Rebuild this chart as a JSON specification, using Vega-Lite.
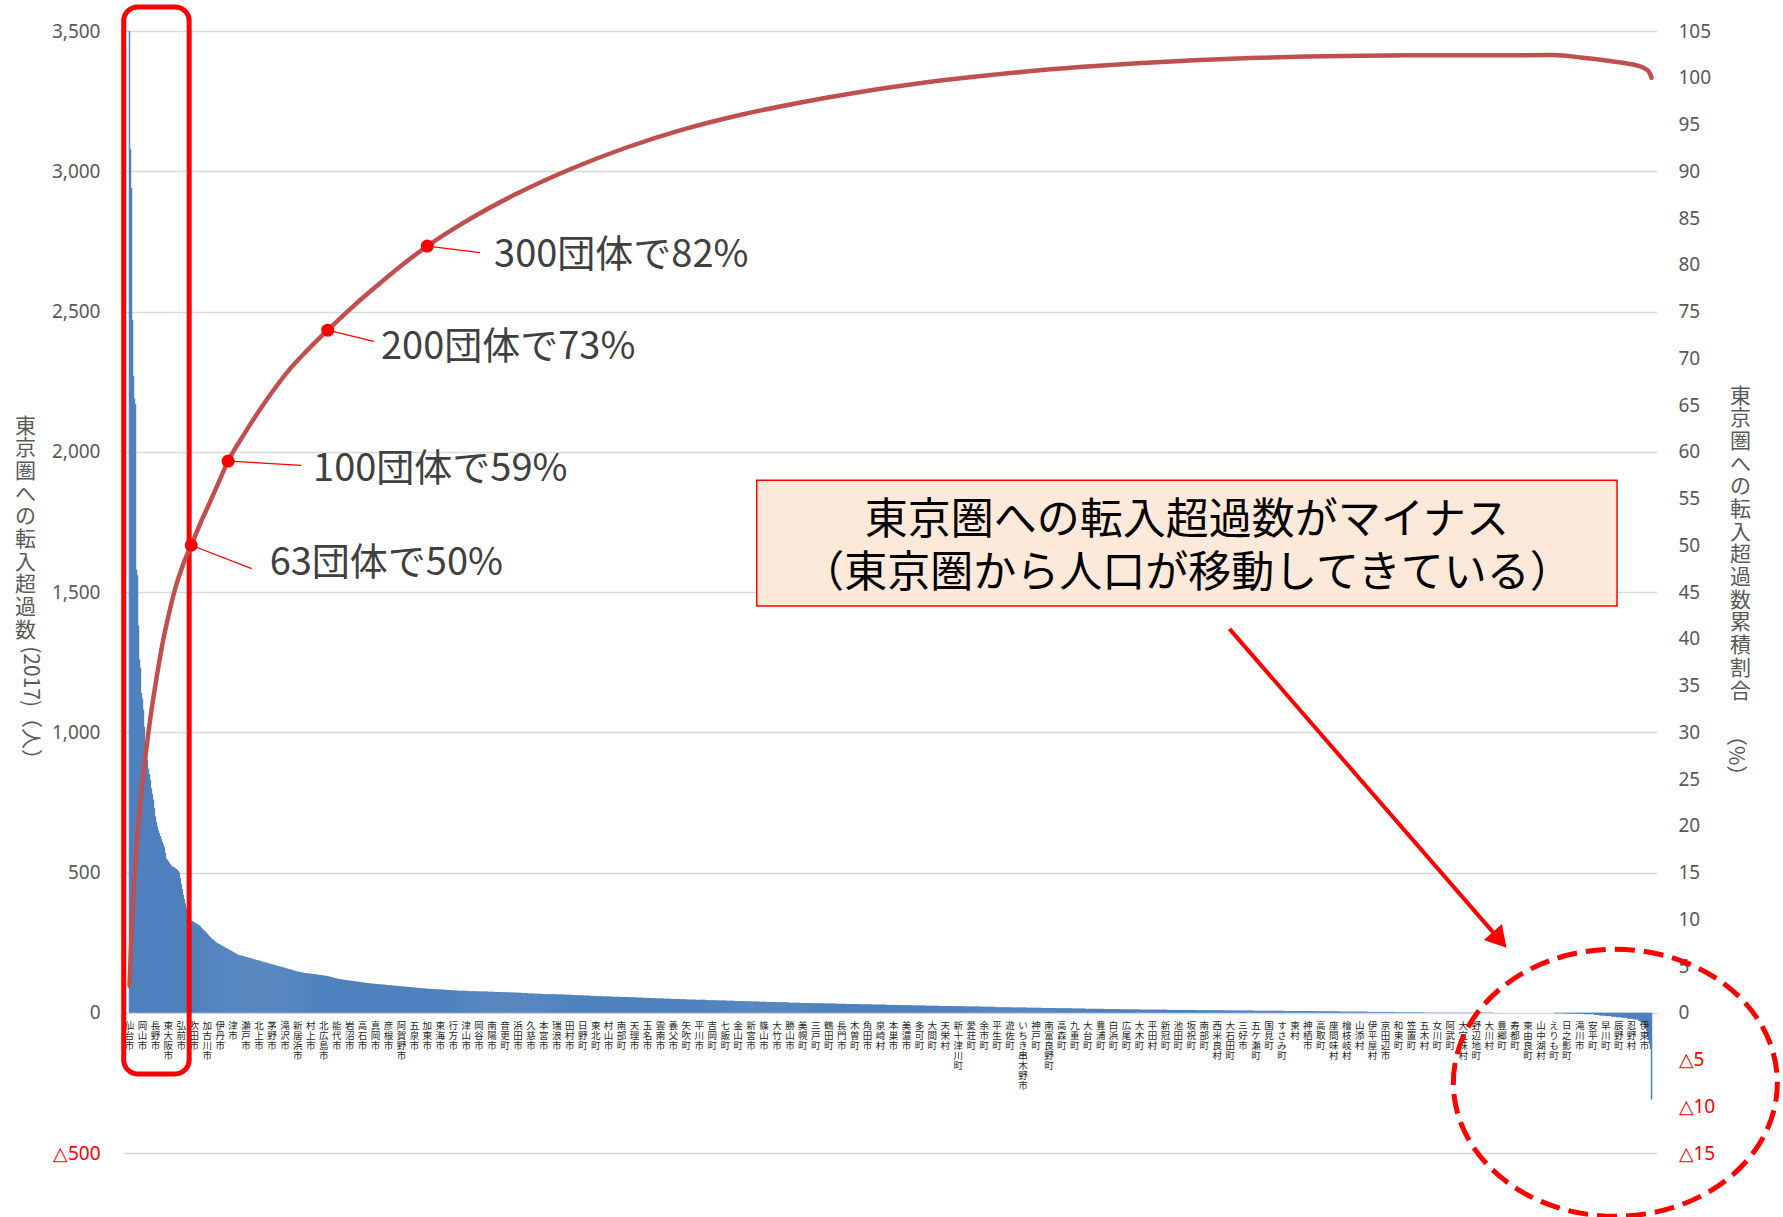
{
  "$schema": "https://vega.github.io/schema/vega-lite/v6.json",
  "width": 1533,
  "height": 1122,
  "autosize": {"type": "none"},
  "padding": {"left": 124, "top": 31, "right": 126, "bottom": 64},
  "background": "white",
  "config": {"view": {"stroke": null}, "font": "Noto Sans CJK JP"},
  "datasets": {
    "bars": [
      3500,3080,2940,2470,2270,2190,2170,1580,1560,1380,
      1260,1230,1140,1120,1080,1020,960,920,900,870,
      850,830,800,780,760,730,700,680,665,650,
      640,630,620,610,600,590,570,550,545,540,
      535,530,525,522,520,518,515,512,510,505,
      500,480,460,440,420,405,390,375,362,350,
      340,332,328,327,325,322,320,318,316,314,
      311,308,304,300,296,293,290,286,282,278,
      274,270,266,263,260,257,254,251,249,247,
      245,243,241,239,237,235,233,231,229,227,
      225,223,221,219,217,215,213,211,209,207,
      206,205,204,203,202,201,200,199,198,197,
      196,195,194,193,192,191,190,189,188,187,
      186,185,184,183,182,181,180,179,178,177,
      176,175,174,173,172,171,170,169,168,167,
      166,165,164,163,162,161,160,159,158,157,
      156,155,154,153,152,151,150,149,148,147,
      146,145,144,144,143,143,142,142,141,141,
      140,140,139,139,138,138,137,137,136,136,
      135,135,134,134,133,133,132,132,131,131,
      130,129,128,127,126,125,124,123,122,121,
      120,120,119,119,118,118,117,117,116,116,
      115,115,114,114,113,113,112,112,111,111,
      110,110,109,109,108,108,107,107,106,106,
      105,105,105,104,104,104,103,103,103,102,
      102,102,101,101,101,100,100,100,99,99,
      99,98,98,98,97,97,97,96,96,96,
      95,95,95,94,94,94,93,93,93,92,
      92,92,91,91,91,90,90,90,89,89,
      89,88,88,88,87,87,87,86,86,86,
      85,85,85,85,85,84,84,84,84,84,
      83,83,83,83,83,82,82,82,82,81,
      81,81,81,80,80,80,80,79,79,79,
      78,78,78,78,78,78,78,78,78,78,
      77,77,77,77,77,77,77,77,77,77,
      76,76,76,76,76,76,76,76,76,76,
      75,75,75,75,75,75,75,74,74,74,74,74,74,74,
      73,73,73,73,73,73,73,72,72,72,72,72,72,72,
      71,71,71,71,71,71,70,70,70,70,70,70,
      69,69,69,69,69,69,69,68,68,68,68,68,68,68,
      67,67,67,67,67,67,
      66,66,66,66,66,66,66,66,
      65,65,65,65,65,65,65,65,65,
      64,64,64,64,64,64,64,64,
      63,63,63,63,63,63,62,62,62,62,62,62,
      61,61,61,61,61,61,60,60,60,60,60,60,
      59,59,59,59,59,59,
      58,58,58,58,58,58,58,58,58,
      57,57,57,57,57,57,57,57,57,
      56,56,56,56,56,56,56,56,56,
      55,55,55,55,55,55,55,54,54,54,54,54,54,54,
      53,53,53,53,53,53,53,52,52,52,52,52,52,52,
      51,51,51,51,51,51,51,50,50,50,50,50,50,50,
      49,49,49,49,49,49,49,49,48,48,48,48,48,48,48,
      47,47,47,47,47,47,47,47,47,47,
      46,46,46,46,46,46,46,46,46,46,
      45,45,45,45,45,45,45,45,45,45,45,
      44,44,44,44,44,44,44,44,44,44,
      43,43,43,43,43,43,43,43,42,42,42,42,42,42,42,42,
      41,41,41,41,41,41,41,41,40,40,40,40,40,40,40,40,
      39,39,39,39,39,39,39,39,
      38,38,38,38,38,38,38,38,38,38,38,
      37,37,37,37,37,37,37,37,37,37,37,
      36,36,36,36,36,36,36,36,36,36,36,
      35,35,35,35,35,35,35,35,35,35,35,35,
      34,34,34,34,34,34,34,34,34,34,34,34,
      33,33,33,33,33,33,33,33,33,33,33,33,
      32,32,32,32,32,32,32,32,32,32,32,
      31,31,31,31,31,31,31,31,31,31,31,31,31,
      30,30,30,30,30,30,30,30,30,30,30,30,30,
      29,29,29,29,29,29,29,29,29,29,29,29,29,29,
      28,28,28,28,28,28,28,28,28,28,28,28,28,28,
      27,27,27,27,27,27,27,27,27,27,27,27,27,
      26,26,26,26,26,26,26,26,26,26,26,26,26,
      25,25,25,25,25,25,25,25,25,25,25,25,25,
      24,24,24,24,24,24,24,24,24,24,24,24,24,24,
      23,23,23,23,23,23,23,23,23,23,23,23,23,
      22,22,22,22,22,22,22,22,22,22,22,22,22,22,22,
      21,21,21,21,21,21,21,21,21,21,21,21,21,21,21,
      20,20,20,20,20,20,20,20,20,20,20,20,20,20,20,20,
      19,19,19,19,19,19,19,19,19,19,19,19,19,19,19,
      18,18,18,18,18,18,18,18,18,18,18,18,18,18,18,
      17,17,17,17,17,17,17,17,17,17,17,17,17,17,17,
      16,16,16,16,16,16,16,16,16,16,16,16,16,16,16,
      15,15,15,15,15,15,15,15,15,15,15,15,15,15,
      14,14,14,14,14,14,14,14,14,14,14,14,14,14,14,14,14,14,
      13,13,13,13,13,13,13,13,13,13,13,13,13,13,13,13,13,13,
      12,12,12,12,12,12,12,12,12,12,12,12,12,12,12,12,12,12,12,
      11,11,11,11,11,11,11,11,11,11,11,11,11,11,11,11,11,11,11,11,11,11,11,11,11,11,11,
      10,10,10,10,10,10,10,10,10,10,10,10,10,10,10,10,10,10,10,10,10,10,10,10,10,10,10,10,
      9,9,9,9,9,9,9,9,9,9,9,9,9,9,9,9,9,9,9,9,9,9,9,9,9,9,9,9,9,9,
      8,8,8,8,8,8,8,8,8,8,8,8,8,8,8,8,8,8,8,8,8,8,8,8,8,8,8,8,8,
      7,7,7,7,7,7,7,7,7,7,7,7,7,7,7,7,7,7,7,7,7,7,7,7,7,7,7,7,7,7,
      6,6,6,6,6,6,6,6,6,6,6,6,6,6,6,6,6,6,6,6,6,6,6,6,6,6,6,6,6,6,6,
      5,5,5,5,5,5,5,5,5,5,5,5,5,5,5,5,5,5,5,5,5,5,5,5,5,5,
      4,4,4,4,4,4,4,4,4,4,4,4,4,4,4,4,4,4,4,4,4,4,4,4,4,4,4,
      3,3,3,3,3,3,3,3,3,3,3,3,3,3,3,3,3,3,3,3,3,3,3,3,3,3,3,3,
      2,2,2,2,2,2,2,2,2,2,2,2,2,2,2,2,2,2,2,2,2,2,2,2,2,2,2,2,2,
      1,1,1,1,1,1,1,1,1,1,1,1,1,1,1,1,1,1,1,1,
      1,1,1,1,1,1,1,1,1,1,1,1,1,1,1,1,1,1,1,1,
      1,1,1,1,1,1,1,1,1,1,1,1,1,1,1,1,1,1,1,1,
      1,1,1,1,1,1,1,1,1,1,
      0,0,0,0,0,0,0,0,0,0,0,0,0,0,0,0,0,0,0,0,
      0,0,0,0,0,0,0,0,0,0,0,0,0,0,0,0,0,0,0,0,
      0,0,0,0,0,0,0,0,0,0,0,0,0,0,0,0,0,0,0,0,0,
      -2,-2,-2,-2,-2,-2,-2,-2,-2,-2,
      -3,-3,-3,-3,-3,-3,-3,-3,-3,-3,
      -4,-4,-4,-4,-4,-4,-4,-4,-4,-4,
      -5,-5,-5,-5,-5,-5,-5,-5,-5,-5,
      -8,-8,-8,-8,-8,-10,-10,-10,-10,-10,-10,
      -12,-12,-12,-12,-12,-12,-14,-14,-14,-14,-14,
      -16,-16,-16,-16,-16,-18,-18,-18,-18,-18,-18,
      -21,-21,-21,-21,-21,-21,-24,-24,-24,-24,-24,
      -28,-30,-32,-34,-36,-40,-45,
      -55,-65,-80,-95,-110,-130,
      -310
    ],
    "cum": [
      {"i":1,"p":2.9},{"i":3,"p":8.3},{"i":5,"p":12.8},{"i":7,"p":16.0},{"i":9,"p":19.0},
      {"i":12,"p":22.6},{"i":15,"p":25.6},{"i":18,"p":28.3},{"i":23,"p":32.3},{"i":28,"p":35.7},
      {"i":34,"p":39.4},{"i":40,"p":42.4},{"i":47,"p":45.4},{"i":55,"p":48.0},{"i":63,"p":50.0},
      {"i":72,"p":52.3},{"i":80,"p":54.2},{"i":90,"p":56.6},{"i":100,"p":59.0},{"i":115,"p":61.7},
      {"i":130,"p":64.2},{"i":145,"p":66.5},{"i":160,"p":68.6},{"i":180,"p":70.9},{"i":200,"p":73.0},
      {"i":225,"p":75.5},{"i":250,"p":77.8},{"i":275,"p":80.0},{"i":300,"p":82.0},{"i":340,"p":84.72},
      {"i":387,"p":87.45},{"i":444,"p":90.24},{"i":500,"p":92.54},{"i":558,"p":94.51},{"i":615,"p":96.05},
      {"i":671,"p":97.28},{"i":730,"p":98.4},{"i":785,"p":99.28},{"i":840,"p":99.99},{"i":899,"p":100.64},
      {"i":955,"p":101.14},{"i":1013,"p":101.56},{"i":1070,"p":101.88},{"i":1126,"p":102.11},{"i":1183,"p":102.26},
      {"i":1240,"p":102.35},{"i":1300,"p":102.4},{"i":1354,"p":102.41},{"i":1430,"p":102.42},{"i":1460,"p":102.15},
      {"i":1480,"p":101.9},{"i":1500,"p":101.6},{"i":1515,"p":101.3},{"i":1522,"p":101.0},{"i":1526,"p":100.7},
      {"i":1528,"p":100.3},{"i":1529,"p":100.0}
    ],
    "names": [
      {"i":1,"n":"仙台市"},{"i":14,"n":"岡山市"},{"i":27,"n":"長野市"},{"i":40,"n":"東大阪市"},{"i":53,"n":"弘前市"},
      {"i":66,"n":"吹田市"},{"i":79,"n":"加古川市"},{"i":92,"n":"伊丹市"},{"i":105,"n":"津市"},{"i":118,"n":"瀬戸市"},
      {"i":131,"n":"北上市"},{"i":144,"n":"茅野市"},{"i":157,"n":"滝沢市"},{"i":170,"n":"新居浜市"},{"i":183,"n":"村上市"},
      {"i":196,"n":"北広島市"},{"i":209,"n":"能代市"},{"i":222,"n":"岩沼市"},{"i":235,"n":"高石市"},{"i":248,"n":"真岡市"},
      {"i":261,"n":"彦根市"},{"i":274,"n":"阿賀野市"},{"i":287,"n":"五泉市"},{"i":300,"n":"加東市"},{"i":313,"n":"東海市"},
      {"i":326,"n":"行方市"},{"i":339,"n":"津山市"},{"i":352,"n":"岡谷市"},{"i":365,"n":"南陽市"},{"i":378,"n":"音更町"},
      {"i":391,"n":"浜田市"},{"i":404,"n":"久慈市"},{"i":417,"n":"本宮市"},{"i":430,"n":"瑞浪市"},{"i":443,"n":"田村市"},
      {"i":456,"n":"日野町"},{"i":469,"n":"東北町"},{"i":482,"n":"村山市"},{"i":495,"n":"南部町"},{"i":508,"n":"天理市"},
      {"i":521,"n":"玉名市"},{"i":534,"n":"雲南市"},{"i":547,"n":"養父市"},{"i":560,"n":"矢吹町"},{"i":573,"n":"平川市"},
      {"i":586,"n":"吉岡町"},{"i":599,"n":"七飯町"},{"i":612,"n":"金山町"},{"i":625,"n":"新宮市"},{"i":638,"n":"篠山市"},
      {"i":651,"n":"大竹市"},{"i":664,"n":"勝山市"},{"i":677,"n":"美幌町"},{"i":690,"n":"三戸町"},{"i":703,"n":"鶴田町"},
      {"i":716,"n":"長門市"},{"i":729,"n":"木曽町"},{"i":742,"n":"角田市"},{"i":755,"n":"泉崎村"},{"i":768,"n":"本巣市"},
      {"i":781,"n":"美濃市"},{"i":794,"n":"多可町"},{"i":807,"n":"大間町"},{"i":820,"n":"天栄村"},{"i":833,"n":"新十津川町"},
      {"i":846,"n":"愛荘町"},{"i":859,"n":"余市町"},{"i":872,"n":"平生町"},{"i":885,"n":"遊佐町"},{"i":898,"n":"いちき串木野市"},
      {"i":911,"n":"神戸町"},{"i":924,"n":"南富良野町"},{"i":937,"n":"高森町"},{"i":950,"n":"九重町"},{"i":963,"n":"大台町"},
      {"i":976,"n":"豊浦町"},{"i":989,"n":"白浜町"},{"i":1002,"n":"広尾町"},{"i":1015,"n":"大木町"},{"i":1028,"n":"平田村"},
      {"i":1041,"n":"新冠町"},{"i":1054,"n":"池田町"},{"i":1067,"n":"坂祝町"},{"i":1080,"n":"南部町"},{"i":1093,"n":"西米良村"},
      {"i":1106,"n":"大石田町"},{"i":1119,"n":"三好市"},{"i":1132,"n":"五ケ瀬町"},{"i":1145,"n":"国見町"},{"i":1158,"n":"すさみ町"},
      {"i":1171,"n":"東村"},{"i":1184,"n":"神栖市"},{"i":1197,"n":"高取町"},{"i":1210,"n":"座間味村"},{"i":1223,"n":"檜枝岐村"},
      {"i":1236,"n":"山添村"},{"i":1249,"n":"伊平屋村"},{"i":1262,"n":"京田辺市"},{"i":1275,"n":"和束町"},{"i":1288,"n":"笠置町"},
      {"i":1301,"n":"五木村"},{"i":1314,"n":"女川町"},{"i":1327,"n":"阿武町"},{"i":1340,"n":"大宜味村"},{"i":1353,"n":"野辺地町"},
      {"i":1366,"n":"大川村"},{"i":1379,"n":"豊郷町"},{"i":1392,"n":"寿都町"},{"i":1405,"n":"東由良町"},{"i":1418,"n":"山中湖村"},
      {"i":1431,"n":"えりも町"},{"i":1444,"n":"日之影町"},{"i":1457,"n":"滝川市"},{"i":1470,"n":"安平町"},{"i":1483,"n":"早川町"},
      {"i":1496,"n":"辰野町"},{"i":1509,"n":"忍野村"},{"i":1522,"n":"伊東市"}
    ],
    "marks": [{"i":63,"p":50},{"i":100,"p":59},{"i":200,"p":73},{"i":300,"p":82}]
  },
  "resolve": {"scale": {"y": "independent"}, "axis": {"y": "independent"}},
  "layer": [
    {
      "layer": [
        {
          "data": {"name": "bars"},
          "transform": [{"window": [{"op": "row_number", "as": "i"}]}],
          "mark": {"type": "bar", "color": "#4F81BD", "width": 1.5},
          "encoding": {
            "x": {"field": "i", "type": "quantitative", "scale": {"domain": [0.5, 1529.5], "nice": false, "zero": false}, "axis": null},
            "y": {
              "field": "data", "type": "quantitative",
              "scale": {"domain": [-500, 3500], "nice": false, "zero": false},
              "axis": {
                "orient": "left",
                "values": [-500, 0, 500, 1000, 1500, 2000, 2500, 3000, 3500],
                "grid": true, "gridColor": "#D9D9D9", "gridWidth": 1.3,
                "domain": false, "ticks": false,
                "labelPadding": 24, "labelFontSize": 19, "labelFont": "Noto Sans",
                "labelColor": {"condition": {"test": "datum.value < 0", "value": "#FF0000"}, "value": "#595959"},
                "labelExpr": "datum.value < 0 ? '△' + format(-datum.value, ',') : format(datum.value, ',')",
                "title": ["東", "京", "圏", "へ", "の", "転", "入", "超", "過", "数"],
                "titleAngle": 0, "titleFontSize": 21, "titleLineHeight": 22.7,
                "titleColor": "#595959", "titleFontWeight": "normal",
                "titleX": -99, "titleY": 384, "titleAlign": "center", "titleBaseline": "top"
              }
            }
          }
        },
        {
          "data": {"name": "names"},
          "mark": {"type": "text", "text": {"expr": "split(datum.n, '')"}, "baseline": "top", "align": "center", "dy": 8, "fontSize": 9.5, "lineHeight": 10, "color": "#262626"},
          "encoding": {
            "x": {"field": "i", "type": "quantitative"},
            "y": {"datum": 0, "type": "quantitative"}
          }
        },
        {
          "data": {"values": [{}]},
          "mark": {"type": "rect", "filled": false, "stroke": "#FF0000", "strokeWidth": 5, "cornerRadius": 14},
          "encoding": {
            "x": {"datum": -4.8, "type": "quantitative"},
            "x2": {"datum": 60.9},
            "y": {"datum": 3586, "type": "quantitative"},
            "y2": {"datum": -218}
          }
        },
        {
          "data": {"values": [{}]},
          "mark": {"type": "point", "shape": "M -1 0 A 1 0.824 0 1 1 1 0 A 1 0.824 0 1 1 -1 0 Z", "size": 104976, "filled": false, "stroke": "#FF0000", "strokeWidth": 5, "strokeDash": [20, 9], "opacity": 1},
          "encoding": {
            "x": {"datum": 1492.7, "type": "quantitative"},
            "y": {"datum": -249.6, "type": "quantitative"}
          }
        },
        {
          "data": {"values": [{}]},
          "mark": {"type": "text", "text": "(2017)（人）", "angle": 90, "align": "center", "baseline": "middle", "fontSize": 21, "color": "#595959"},
          "encoding": {
            "x": {"datum": -98.8, "type": "quantitative"},
            "y": {"datum": 1086, "type": "quantitative"}
          }
        }
      ]
    },
    {
      "layer": [
        {
          "data": {"name": "cum"},
          "mark": {"type": "line", "color": "#C0504D", "strokeWidth": 4.5, "interpolate": "monotone", "strokeCap": "round"},
          "encoding": {
            "x": {"field": "i", "type": "quantitative", "scale": {"domain": [0.5, 1529.5], "nice": false, "zero": false}, "axis": null},
            "y": {
              "field": "p", "type": "quantitative",
              "scale": {"domain": [-15, 105], "nice": false, "zero": false},
              "axis": {
                "orient": "right",
                "values": [-15, -10, -5, 0, 5, 10, 15, 20, 25, 30, 35, 40, 45, 50, 55, 60, 65, 70, 75, 80, 85, 90, 95, 100, 105],
                "grid": false, "domain": false, "ticks": false,
                "labelPadding": 21, "labelFontSize": 19, "labelFont": "Noto Sans",
                "labelColor": {"condition": {"test": "datum.value < 0", "value": "#FF0000"}, "value": "#595959"},
                "labelExpr": "datum.value < 0 ? '△' + format(-datum.value, ',') : format(datum.value, ',')",
                "title": ["東", "京", "圏", "へ", "の", "転", "入", "超", "過", "数", " ", "累", "積", "割", "合"],
                "titleAngle": 0, "titleFontSize": 21, "titleLineHeight": 22.7,
                "titleColor": "#595959", "titleFontWeight": "normal",
                "titleX": 83, "titleY": 354, "titleAlign": "center", "titleBaseline": "top"
              }
            }
          }
        },
        {"data": {"values": [{}]}, "mark": {"type": "rule", "color": "#FF0000", "strokeWidth": 1.2},
         "encoding": {"x": {"datum": 63, "type": "quantitative"}, "x2": {"datum": 123.7}, "y": {"datum": 50, "type": "quantitative"}, "y2": {"datum": 47.5}}},
        {"data": {"values": [{}]}, "mark": {"type": "rule", "color": "#FF0000", "strokeWidth": 1.2},
         "encoding": {"x": {"datum": 100, "type": "quantitative"}, "x2": {"datum": 173.6}, "y": {"datum": 59, "type": "quantitative"}, "y2": {"datum": 58.55}}},
        {"data": {"values": [{}]}, "mark": {"type": "rule", "color": "#FF0000", "strokeWidth": 1.2},
         "encoding": {"x": {"datum": 200, "type": "quantitative"}, "x2": {"datum": 246.2}, "y": {"datum": 73, "type": "quantitative"}, "y2": {"datum": 71.8}}},
        {"data": {"values": [{}]}, "mark": {"type": "rule", "color": "#FF0000", "strokeWidth": 1.2},
         "encoding": {"x": {"datum": 300, "type": "quantitative"}, "x2": {"datum": 352.9}, "y": {"datum": 82, "type": "quantitative"}, "y2": {"datum": 81.3}}},
        {
          "data": {"name": "marks"},
          "mark": {"type": "point", "filled": true, "color": "#FF0000", "size": 170, "opacity": 1},
          "encoding": {
            "x": {"field": "i", "type": "quantitative"},
            "y": {"field": "p", "type": "quantitative"}
          }
        },
        {"data": {"values": [{}]}, "mark": {"type": "text", "text": "63団体で50%", "align": "left", "baseline": "middle", "fontSize": 38, "color": "#404040"},
         "encoding": {"x": {"datum": 141.7, "type": "quantitative"}, "y": {"datum": 47.98, "type": "quantitative"}}},
        {"data": {"values": [{}]}, "mark": {"type": "text", "text": "100団体で59%", "align": "left", "baseline": "middle", "fontSize": 38, "color": "#404040"},
         "encoding": {"x": {"datum": 185.3, "type": "quantitative"}, "y": {"datum": 58.07, "type": "quantitative"}}},
        {"data": {"values": [{}]}, "mark": {"type": "text", "text": "200団体で73%", "align": "left", "baseline": "middle", "fontSize": 38, "color": "#404040"},
         "encoding": {"x": {"datum": 253.5, "type": "quantitative"}, "y": {"datum": 71.07, "type": "quantitative"}}},
        {"data": {"values": [{}]}, "mark": {"type": "text", "text": "300団体で82%", "align": "left", "baseline": "middle", "fontSize": 38, "color": "#404040"},
         "encoding": {"x": {"datum": 367, "type": "quantitative"}, "y": {"datum": 80.9, "type": "quantitative"}}},
        {"data": {"values": [{}]}, "mark": {"type": "rect", "fill": "#FDE9D9", "stroke": "#FF0000", "strokeWidth": 1.5},
         "encoding": {"x": {"datum": 630.7, "type": "quantitative"}, "x2": {"datum": 1494.4}, "y": {"datum": 56.96, "type": "quantitative"}, "y2": {"datum": 43.49}}},
        {"data": {"values": [{}]}, "mark": {"type": "text", "text": ["東京圏への転入超過数がマイナス", "（東京圏から人口が移動してきている）"], "align": "center", "baseline": "middle", "fontSize": 43, "lineHeight": 53.5, "color": "#000000"},
         "encoding": {"x": {"datum": 1062.6, "type": "quantitative"}, "y": {"datum": 52.6, "type": "quantitative"}}},
        {"data": {"values": [{}]}, "mark": {"type": "rule", "color": "#FF0000", "strokeWidth": 4},
         "encoding": {"x": {"datum": 1105.3, "type": "quantitative"}, "x2": {"datum": 1376.6}, "y": {"datum": 41.05, "type": "quantitative"}, "y2": {"datum": 7.8}}},
        {"data": {"values": [{}]}, "mark": {"type": "point", "shape": "triangle-up", "filled": true, "color": "#FF0000", "size": 576, "angle": 138.8, "opacity": 1},
         "encoding": {"x": {"datum": 1376.6, "type": "quantitative"}, "y": {"datum": 7.8, "type": "quantitative"}}},
        {"data": {"values": [{}]}, "mark": {"type": "text", "text": "（%）", "angle": 90, "align": "center", "baseline": "middle", "fontSize": 21, "color": "#595959"},
         "encoding": {"x": {"datum": 1612.8, "type": "quantitative"}, "y": {"datum": 27.5, "type": "quantitative"}}}
      ]
    }
  ]
}
